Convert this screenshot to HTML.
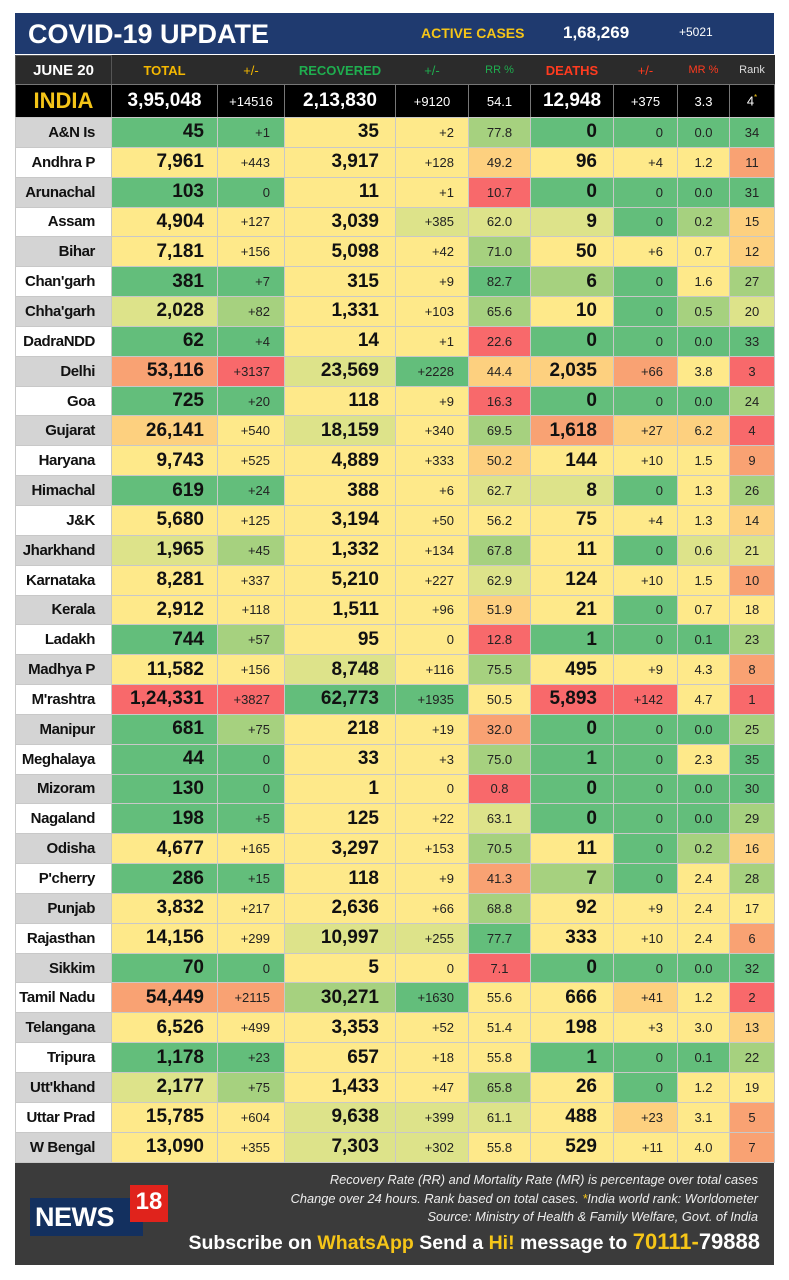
<!DOCTYPE html>
<html><head><meta charset="utf-8"><style>
*{margin:0;padding:0;box-sizing:border-box}
body{width:789px;height:1280px;background:#fff;position:relative;overflow:hidden;font-family:"Liberation Sans",sans-serif}
.hd{position:absolute;left:15px;top:13px;width:759px;height:41px;background:#1f3a6f;color:#fff}
.ch{position:absolute;left:15px;top:55px;width:759px;height:29px;background:#2b2b2b}
table{position:absolute;left:15px;border-collapse:collapse;table-layout:fixed;width:759px}
td{border:1px solid #c8c8c8;overflow:hidden;white-space:nowrap;font-size:13px;color:#222}
#ind td{background:#000;color:#fff;border:1px solid #777;height:33px}
#dat td{height:29.85px}
.n{text-align:right;padding-right:16px;font-weight:bold;font-size:15px;color:#111;letter-spacing:-0.4px}
.t{text-align:right;padding-right:13px;font-weight:bold;font-size:19px;color:#111}
.d{text-align:right;padding-right:14px}
.r{text-align:right;padding-right:16px;font-weight:bold;font-size:19px;color:#111}
.c{text-align:center}
.gr{background:#d4d4d4}.wh{background:#fff}
.G{background:#63be7b}.g{background:#a6d17f}.y{background:#dde38a}.Y{background:#fee98a}.o{background:#fdd07f}.O{background:#f9a273}.R{background:#f8696b}
.ft{position:absolute;left:15px;top:1163px;width:759px;height:102px;background:#3b3b3b;color:#fff}
.fi{position:absolute;right:16px;font-style:italic;font-size:12.8px;color:#eee;white-space:nowrap}
</style></head><body>
<div class="hd">
<div style="position:absolute;left:13px;top:6px;font-size:27px;font-weight:bold">COVID-19 UPDATE</div>
<div style="position:absolute;left:406px;top:12px;font-size:14px;font-weight:bold;color:#f5c518">ACTIVE CASES</div>
<div style="position:absolute;left:548px;top:10px;font-size:17px;font-weight:bold">1,68,269</div>
<div style="position:absolute;left:664px;top:12px;font-size:12px">+5021</div>
</div>
<div class="ch"></div>
<table style="top:55px"><colgroup><col style="width:96px"><col style="width:106px"><col style="width:67px"><col style="width:111px"><col style="width:73px"><col style="width:62px"><col style="width:83px"><col style="width:64px"><col style="width:52px"><col style="width:45px"></colgroup>
<tr style="height:29px;font-weight:bold;font-size:13px">
<td class="c" style="color:#fff;font-size:15px;border-color:#555">JUNE 20</td>
<td class="c" style="color:#f5b800;border-color:#2b2b2b">TOTAL</td>
<td class="c" style="color:#f5b800;font-weight:normal;border-color:#2b2b2b">+/-</td>
<td class="c" style="color:#1fae4f;border-color:#2b2b2b">RECOVERED</td>
<td class="c" style="color:#1fae4f;font-weight:normal;border-color:#2b2b2b">+/-</td>
<td class="c" style="color:#1fae4f;font-weight:normal;font-size:11px;border-color:#2b2b2b">RR %</td>
<td class="c" style="color:#ff3b1f;border-color:#2b2b2b">DEATHS</td>
<td class="c" style="color:#ff3b1f;font-weight:normal;border-color:#2b2b2b">+/-</td>
<td class="c" style="color:#ff3b1f;font-weight:normal;font-size:11px;border-color:#2b2b2b">MR %</td>
<td class="c" style="color:#ddd;font-weight:normal;font-size:11px;border-color:#2b2b2b">Rank</td></tr>
</table>
<table id="ind" style="top:84px"><colgroup><col style="width:96px"><col style="width:106px"><col style="width:67px"><col style="width:111px"><col style="width:73px"><col style="width:62px"><col style="width:83px"><col style="width:64px"><col style="width:52px"><col style="width:45px"></colgroup>
<tr><td class="c" style="color:#f5c518;font-weight:bold;font-size:22px">INDIA</td><td class="c" style="font-weight:bold;font-size:19px">3,95,048</td><td class="c">+14516</td><td class="c" style="font-weight:bold;font-size:19px">2,13,830</td><td class="c">+9120</td><td class="c">54.1</td><td class="c" style="font-weight:bold;font-size:19px">12,948</td><td class="c">+375</td><td class="c">3.3</td><td class="c">4<sup style="color:#f5c518;font-size:8px">*</sup></td></tr>
</table>
<table id="dat" style="top:117px"><colgroup><col style="width:96px"><col style="width:106px"><col style="width:67px"><col style="width:111px"><col style="width:73px"><col style="width:62px"><col style="width:83px"><col style="width:64px"><col style="width:52px"><col style="width:45px"></colgroup>
<tr><td class="n gr">A&amp;N Is</td><td class="t G">45</td><td class="d G">+1</td><td class="r Y">35</td><td class="d Y">+2</td><td class="c g">77.8</td><td class="r G">0</td><td class="d G">0</td><td class="c G">0.0</td><td class="c G">34</td></tr>
<tr><td class="n wh">Andhra P</td><td class="t Y">7,961</td><td class="d Y">+443</td><td class="r Y">3,917</td><td class="d Y">+128</td><td class="c o">49.2</td><td class="r Y">96</td><td class="d Y">+4</td><td class="c Y">1.2</td><td class="c O">11</td></tr>
<tr><td class="n gr">Arunachal</td><td class="t G">103</td><td class="d G">0</td><td class="r Y">11</td><td class="d Y">+1</td><td class="c R">10.7</td><td class="r G">0</td><td class="d G">0</td><td class="c G">0.0</td><td class="c G">31</td></tr>
<tr><td class="n wh">Assam</td><td class="t Y">4,904</td><td class="d Y">+127</td><td class="r Y">3,039</td><td class="d y">+385</td><td class="c y">62.0</td><td class="r y">9</td><td class="d G">0</td><td class="c g">0.2</td><td class="c o">15</td></tr>
<tr><td class="n gr">Bihar</td><td class="t Y">7,181</td><td class="d Y">+156</td><td class="r Y">5,098</td><td class="d Y">+42</td><td class="c g">71.0</td><td class="r Y">50</td><td class="d Y">+6</td><td class="c Y">0.7</td><td class="c o">12</td></tr>
<tr><td class="n wh">Chan'garh</td><td class="t G">381</td><td class="d G">+7</td><td class="r Y">315</td><td class="d Y">+9</td><td class="c G">82.7</td><td class="r g">6</td><td class="d G">0</td><td class="c Y">1.6</td><td class="c g">27</td></tr>
<tr><td class="n gr">Chha'garh</td><td class="t y">2,028</td><td class="d g">+82</td><td class="r Y">1,331</td><td class="d Y">+103</td><td class="c g">65.6</td><td class="r Y">10</td><td class="d G">0</td><td class="c g">0.5</td><td class="c y">20</td></tr>
<tr><td class="n wh">DadraNDD</td><td class="t G">62</td><td class="d G">+4</td><td class="r Y">14</td><td class="d Y">+1</td><td class="c R">22.6</td><td class="r G">0</td><td class="d G">0</td><td class="c G">0.0</td><td class="c G">33</td></tr>
<tr><td class="n gr">Delhi</td><td class="t O">53,116</td><td class="d R">+3137</td><td class="r y">23,569</td><td class="d G">+2228</td><td class="c o">44.4</td><td class="r o">2,035</td><td class="d O">+66</td><td class="c Y">3.8</td><td class="c R">3</td></tr>
<tr><td class="n wh">Goa</td><td class="t G">725</td><td class="d G">+20</td><td class="r Y">118</td><td class="d Y">+9</td><td class="c R">16.3</td><td class="r G">0</td><td class="d G">0</td><td class="c G">0.0</td><td class="c g">24</td></tr>
<tr><td class="n gr">Gujarat</td><td class="t o">26,141</td><td class="d Y">+540</td><td class="r y">18,159</td><td class="d Y">+340</td><td class="c g">69.5</td><td class="r O">1,618</td><td class="d o">+27</td><td class="c o">6.2</td><td class="c R">4</td></tr>
<tr><td class="n wh">Haryana</td><td class="t Y">9,743</td><td class="d Y">+525</td><td class="r Y">4,889</td><td class="d Y">+333</td><td class="c o">50.2</td><td class="r Y">144</td><td class="d Y">+10</td><td class="c Y">1.5</td><td class="c O">9</td></tr>
<tr><td class="n gr">Himachal</td><td class="t G">619</td><td class="d G">+24</td><td class="r Y">388</td><td class="d Y">+6</td><td class="c y">62.7</td><td class="r y">8</td><td class="d G">0</td><td class="c Y">1.3</td><td class="c g">26</td></tr>
<tr><td class="n wh">J&amp;K</td><td class="t Y">5,680</td><td class="d Y">+125</td><td class="r Y">3,194</td><td class="d Y">+50</td><td class="c Y">56.2</td><td class="r Y">75</td><td class="d Y">+4</td><td class="c Y">1.3</td><td class="c o">14</td></tr>
<tr><td class="n gr">Jharkhand</td><td class="t y">1,965</td><td class="d g">+45</td><td class="r Y">1,332</td><td class="d Y">+134</td><td class="c g">67.8</td><td class="r Y">11</td><td class="d G">0</td><td class="c y">0.6</td><td class="c y">21</td></tr>
<tr><td class="n wh">Karnataka</td><td class="t Y">8,281</td><td class="d Y">+337</td><td class="r Y">5,210</td><td class="d Y">+227</td><td class="c y">62.9</td><td class="r Y">124</td><td class="d Y">+10</td><td class="c Y">1.5</td><td class="c O">10</td></tr>
<tr><td class="n gr">Kerala</td><td class="t Y">2,912</td><td class="d Y">+118</td><td class="r Y">1,511</td><td class="d Y">+96</td><td class="c o">51.9</td><td class="r Y">21</td><td class="d G">0</td><td class="c Y">0.7</td><td class="c Y">18</td></tr>
<tr><td class="n wh">Ladakh</td><td class="t G">744</td><td class="d g">+57</td><td class="r Y">95</td><td class="d Y">0</td><td class="c R">12.8</td><td class="r G">1</td><td class="d G">0</td><td class="c G">0.1</td><td class="c g">23</td></tr>
<tr><td class="n gr">Madhya P</td><td class="t Y">11,582</td><td class="d Y">+156</td><td class="r y">8,748</td><td class="d Y">+116</td><td class="c g">75.5</td><td class="r Y">495</td><td class="d Y">+9</td><td class="c Y">4.3</td><td class="c O">8</td></tr>
<tr><td class="n wh">M'rashtra</td><td class="t R">1,24,331</td><td class="d R">+3827</td><td class="r G">62,773</td><td class="d G">+1935</td><td class="c Y">50.5</td><td class="r R">5,893</td><td class="d R">+142</td><td class="c Y">4.7</td><td class="c R">1</td></tr>
<tr><td class="n gr">Manipur</td><td class="t G">681</td><td class="d g">+75</td><td class="r Y">218</td><td class="d Y">+19</td><td class="c O">32.0</td><td class="r G">0</td><td class="d G">0</td><td class="c G">0.0</td><td class="c g">25</td></tr>
<tr><td class="n wh">Meghalaya</td><td class="t G">44</td><td class="d G">0</td><td class="r Y">33</td><td class="d Y">+3</td><td class="c g">75.0</td><td class="r G">1</td><td class="d G">0</td><td class="c Y">2.3</td><td class="c G">35</td></tr>
<tr><td class="n gr">Mizoram</td><td class="t G">130</td><td class="d G">0</td><td class="r Y">1</td><td class="d Y">0</td><td class="c R">0.8</td><td class="r G">0</td><td class="d G">0</td><td class="c G">0.0</td><td class="c G">30</td></tr>
<tr><td class="n wh">Nagaland</td><td class="t G">198</td><td class="d G">+5</td><td class="r Y">125</td><td class="d Y">+22</td><td class="c y">63.1</td><td class="r G">0</td><td class="d G">0</td><td class="c G">0.0</td><td class="c g">29</td></tr>
<tr><td class="n gr">Odisha</td><td class="t Y">4,677</td><td class="d Y">+165</td><td class="r Y">3,297</td><td class="d Y">+153</td><td class="c g">70.5</td><td class="r Y">11</td><td class="d G">0</td><td class="c g">0.2</td><td class="c o">16</td></tr>
<tr><td class="n wh">P'cherry</td><td class="t G">286</td><td class="d G">+15</td><td class="r Y">118</td><td class="d Y">+9</td><td class="c O">41.3</td><td class="r g">7</td><td class="d G">0</td><td class="c Y">2.4</td><td class="c g">28</td></tr>
<tr><td class="n gr">Punjab</td><td class="t Y">3,832</td><td class="d Y">+217</td><td class="r Y">2,636</td><td class="d Y">+66</td><td class="c g">68.8</td><td class="r Y">92</td><td class="d Y">+9</td><td class="c Y">2.4</td><td class="c Y">17</td></tr>
<tr><td class="n wh">Rajasthan</td><td class="t Y">14,156</td><td class="d Y">+299</td><td class="r y">10,997</td><td class="d y">+255</td><td class="c G">77.7</td><td class="r Y">333</td><td class="d Y">+10</td><td class="c Y">2.4</td><td class="c O">6</td></tr>
<tr><td class="n gr">Sikkim</td><td class="t G">70</td><td class="d G">0</td><td class="r Y">5</td><td class="d Y">0</td><td class="c R">7.1</td><td class="r G">0</td><td class="d G">0</td><td class="c G">0.0</td><td class="c G">32</td></tr>
<tr><td class="n wh">Tamil Nadu</td><td class="t O">54,449</td><td class="d O">+2115</td><td class="r g">30,271</td><td class="d G">+1630</td><td class="c Y">55.6</td><td class="r Y">666</td><td class="d o">+41</td><td class="c Y">1.2</td><td class="c R">2</td></tr>
<tr><td class="n gr">Telangana</td><td class="t Y">6,526</td><td class="d Y">+499</td><td class="r Y">3,353</td><td class="d Y">+52</td><td class="c Y">51.4</td><td class="r Y">198</td><td class="d Y">+3</td><td class="c Y">3.0</td><td class="c o">13</td></tr>
<tr><td class="n wh">Tripura</td><td class="t G">1,178</td><td class="d G">+23</td><td class="r Y">657</td><td class="d Y">+18</td><td class="c Y">55.8</td><td class="r G">1</td><td class="d G">0</td><td class="c G">0.1</td><td class="c g">22</td></tr>
<tr><td class="n gr">Utt'khand</td><td class="t y">2,177</td><td class="d g">+75</td><td class="r Y">1,433</td><td class="d Y">+47</td><td class="c g">65.8</td><td class="r Y">26</td><td class="d G">0</td><td class="c Y">1.2</td><td class="c Y">19</td></tr>
<tr><td class="n wh">Uttar Prad</td><td class="t Y">15,785</td><td class="d Y">+604</td><td class="r y">9,638</td><td class="d y">+399</td><td class="c y">61.1</td><td class="r Y">488</td><td class="d o">+23</td><td class="c Y">3.1</td><td class="c O">5</td></tr>
<tr><td class="n gr">W Bengal</td><td class="t Y">13,090</td><td class="d Y">+355</td><td class="r y">7,303</td><td class="d y">+302</td><td class="c Y">55.8</td><td class="r Y">529</td><td class="d Y">+11</td><td class="c Y">4.0</td><td class="c O">7</td></tr>
</table>
<div class="ft">
<div style="position:absolute;left:15px;top:35px;width:113px;height:38px;background:#13305f"></div>
<div style="position:absolute;left:20px;top:39px;font-size:27px;font-weight:bold;color:#fff;letter-spacing:-0.5px">NEWS</div>
<div style="position:absolute;left:115px;top:22px;width:38px;height:37px;background:#e0231c;color:#fff;font-weight:bold;font-size:24px;text-align:center;line-height:34px">18</div>
<div class="fi" style="top:9px">Recovery Rate (RR) and Mortality Rate (MR) is percentage over total cases</div>
<div class="fi" style="top:28px">Change over 24 hours. Rank based on total cases. <span style="color:#f5c518">*</span>India world rank: Worldometer</div>
<div class="fi" style="top:46px">Source: Ministry of Health &amp; Family Welfare, Govt. of India</div>
<div style="position:absolute;right:14px;top:66px;font-size:19.5px;font-weight:bold;color:#fff;white-space:nowrap">Subscribe on <span style="color:#f5c518">WhatsApp</span> Send a <span style="color:#f5c518">Hi!</span> message to <span style="color:#f5c518;font-size:22px">70111-</span><span style="font-size:22px">79888</span></div>
</div>
</body></html>
